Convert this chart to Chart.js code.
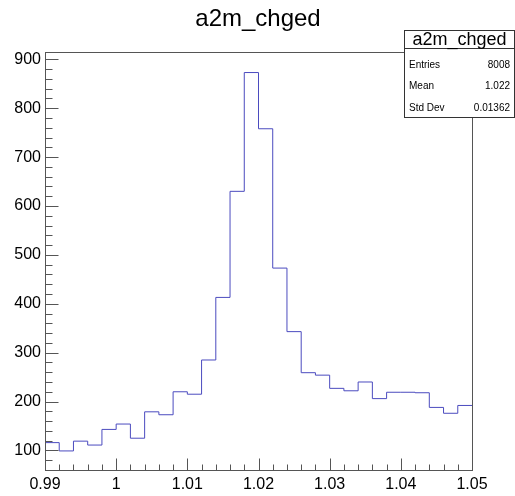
<!DOCTYPE html>
<html>
<head>
<meta charset="utf-8">
<script src="https://cdn.jsdelivr.net/npm/chart.js@4"></script>
<style>html,body{margin:0;padding:0;background:#fff}</style>
</head>
<body>
<canvas id="c" width="515" height="496"></canvas>
<script>
const title = 'a2m_chged';
const binLo = 0.99;
const binW = 0.002;
const counts = [116, 99, 119, 111, 143, 154, 125, 179, 173, 220,
                215, 285, 413, 630, 873, 758, 473, 343, 259, 254,
                227, 222, 240, 206, 219, 219, 218, 188, 176, 192];
const xTicks = [0.99, 1, 1.01, 1.02, 1.03, 1.04, 1.05];
const yTicks = [100, 200, 300, 400, 500, 600, 700, 800, 900];
const statNames = ['Entries', 'Mean', 'Std Dev'];
const statValues = ['8008', '1.022', '0.01362'];

const font = 'Liberation Sans, Helvetica, Arial, sans-serif';
const lineColor = '#4b4bbf';
const frameColor = '#555';

// step line: one point per left bin edge, plus the right edge of the last bin
const points = counts.map((c, i) => ({ x: +(binLo + i * binW).toFixed(3), y: c }));
points.push({ x: +(binLo + counts.length * binW).toFixed(3), y: counts[counts.length - 1] });

const rootStyle = {
    id: 'rootStyle',
    afterDraw(chart) {
        const ctx = chart.ctx;
        const { left, right, top, bottom } = chart.chartArea;
        const xs = chart.scales.x, ys = chart.scales.y;
        ctx.save();
        ctx.strokeStyle = frameColor;
        ctx.lineWidth = 1;
        ctx.strokeRect(Math.round(left) + 0.5, Math.round(top) + 0.5,
                       Math.round(right - left), Math.round(bottom - top));

        // ticks inside the frame
        ctx.beginPath();
        const yb = Math.round(bottom) + 0.5;
        for (let i = 0; i <= 30; i++) {
            const v = binLo + i * binW;
            const px = Math.round(xs.getPixelForValue(v)) + 0.5;
            const len = i % 5 === 0 ? 12 : 6;
            ctx.moveTo(px, yb);
            ctx.lineTo(px, yb - len);
        }
        const xl = Math.round(left) + 0.5;
        for (let v = 80; v <= 900; v += 20) {
            const py = Math.round(ys.getPixelForValue(v)) + 0.5;
            const len = v % 100 === 0 ? 13 : 7;
            ctx.moveTo(xl, py);
            ctx.lineTo(xl + len, py);
        }
        ctx.stroke();

        // title
        ctx.fillStyle = '#000';
        ctx.font = '24px ' + font;
        ctx.textAlign = 'center';
        ctx.textBaseline = 'alphabetic';
        ctx.fillText(title, 258, 26);

        // stats box
        const bx = 404.5, by = 30.5, bw = 110, bh = 87;
        ctx.fillStyle = '#fff';
        ctx.fillRect(bx, by, bw, bh);
        ctx.strokeStyle = '#333';
        ctx.strokeRect(bx, by, bw, bh);
        ctx.beginPath();
        ctx.moveTo(bx, 48.5);
        ctx.lineTo(bx + bw, 48.5);
        ctx.stroke();
        ctx.fillStyle = '#000';
        ctx.font = '18px ' + font;
        ctx.textAlign = 'center';
        ctx.textBaseline = 'middle';
        ctx.fillText(title, bx + bw / 2, 40);
        ctx.font = '10px ' + font;
        const rowY = [65, 86, 108];
        statNames.forEach((n, i) => {
            ctx.textAlign = 'left';
            ctx.fillText(n, 409, rowY[i]);
            ctx.textAlign = 'right';
            ctx.fillText(statValues[i], 510, rowY[i]);
        });
        ctx.restore();
    }
};

new Chart(document.getElementById('c'), {
    type: 'line',
    data: {
        datasets: [{
            data: points,
            stepped: true,
            borderColor: lineColor,
            borderWidth: 1,
            pointRadius: 0,
            fill: false
        }]
    },
    options: {
        responsive: false,
        animation: false,
        layout: { padding: { top: 52, right: 43, left: 0, bottom: 0 } },
        plugins: { legend: { display: false }, tooltip: { enabled: false } },
        scales: {
            x: {
                type: 'linear', min: 0.99, max: 1.05,
                grid: { display: false, drawTicks: false },
                border: { display: false },
                afterBuildTicks: s => { s.ticks = xTicks.map(v => ({ value: v })); },
                afterFit: s => { s.height = 26.5; },
                ticks: {
                    autoSkip: false, maxRotation: 0, padding: 5, color: '#000',
                    font: { family: font, size: 16 },
                    callback: v => String(+(+v).toFixed(2))
                }
            },
            y: {
                min: 61, max: 915,
                grid: { display: false, drawTicks: false },
                border: { display: false },
                afterBuildTicks: s => { s.ticks = yTicks.map(v => ({ value: v })); },
                afterFit: s => { s.width = 45; },
                ticks: {
                    padding: 4, color: '#000',
                    font: { family: font, size: 16 }
                }
            }
        }
    },
    plugins: [rootStyle]
});
</script>
</body>
</html>
